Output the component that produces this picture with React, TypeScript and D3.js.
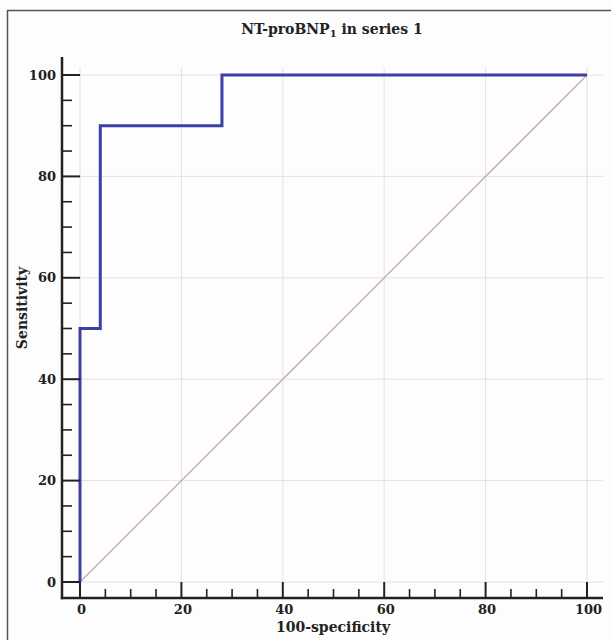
import React, {useEffect, useRef} from 'react';
import * as d3 from 'd3';

// ROC curve points (100-specificity, sensitivity)
const fpr = [0, 0, 4, 4, 28, 28, 100];
const tpr = [0, 50, 50, 90, 90, 100, 100];
const tickValues = [0, 20, 40, 60, 80, 100];
const minorTicks = [5, 10, 15, 25, 30, 35, 45, 50, 55, 65, 70, 75, 85, 90, 95];

const W = 611;
const H = 640;

const App = () => {
  const svgRef = useRef<SVGSVGElement>(null);

  useEffect(() => {
    const svg = d3.select(svgRef.current);
    svg.selectAll('*').remove();
    const font = 'DejaVu Serif';

    const x = d3.scaleLinear().domain([0, 100]).range([80, 587]);
    const y = d3.scaleLinear().domain([0, 100]).range([582, 75]);

    svg.append('rect').attr('width', W).attr('height', H).attr('fill', '#fdfdfd');

    // frame
    svg.append('line').attr('x1', 7.5).attr('x2', W).attr('y1', 10.5).attr('y2', 10.5)
      .attr('stroke', '#555').attr('stroke-width', 1.5);
    svg.append('line').attr('x1', 7.5).attr('x2', 7.5).attr('y1', 10).attr('y2', H)
      .attr('stroke', '#555').attr('stroke-width', 1.5);

    // title
    const title = svg.append('text')
      .attr('x', 332).attr('y', 34)
      .attr('text-anchor', 'middle')
      .attr('font-family', font).attr('font-weight', 'bold').attr('font-size', 14)
      .attr('fill', '#222');
    title.append('tspan').text('NT-proBNP');
    title.append('tspan').attr('font-size', 10).attr('dy', 3).text('1');
    title.append('tspan').attr('dy', -3).text(' in series 1');

    // grid
    const grid = svg.append('g').attr('stroke', '#e2e2e2').attr('stroke-width', 1);
    tickValues.forEach(v => {
      grid.append('line').attr('x1', x(v)).attr('x2', x(v)).attr('y1', y(100) - 8).attr('y2', y(0))
        .attr('stroke', v === 100 ? '#ddd' : '#e2e2e2');
      grid.append('line').attr('x1', x(0)).attr('x2', x(100) + 16).attr('y1', y(v)).attr('y2', y(v));
    });

    // diagonal
    svg.append('line')
      .attr('x1', x(0)).attr('y1', y(0)).attr('x2', x(100)).attr('y2', y(100))
      .attr('stroke', '#c9aaa2').attr('stroke-width', 1.3);

    // ROC curve
    const pts = fpr.map((d, i) => [d, tpr[i]] as [number, number]);
    const line = d3.line<[number, number]>().x(d => x(d[0])).y(d => y(d[1]));
    svg.append('path')
      .attr('d', line(pts))
      .attr('fill', 'none')
      .attr('stroke', '#3b3fa6')
      .attr('stroke-width', 3);

    // axes
    const axisX = 62;
    const axisY = 598;
    const ax = svg.append('g').attr('stroke', '#222');
    ax.append('line').attr('x1', axisX).attr('x2', axisX).attr('y1', 57).attr('y2', axisY + 1.2)
      .attr('stroke-width', 2.5);
    ax.append('line').attr('x1', axisX - 1.2).attr('x2', 603).attr('y1', axisY).attr('y2', axisY)
      .attr('stroke-width', 2.5);

    tickValues.forEach(v => {
      ax.append('line').attr('x1', axisX).attr('x2', x(0)).attr('y1', y(v)).attr('y2', y(v))
        .attr('stroke-width', 2);
      ax.append('line').attr('x1', x(v)).attr('x2', x(v)).attr('y1', axisY).attr('y2', y(0))
        .attr('stroke-width', 2);
    });
    minorTicks.forEach(v => {
      ax.append('line').attr('x1', axisX).attr('x2', axisX + 10).attr('y1', y(v)).attr('y2', y(v))
        .attr('stroke-width', 1.6);
      ax.append('line').attr('x1', x(v)).attr('x2', x(v)).attr('y1', axisY).attr('y2', axisY - 9)
        .attr('stroke-width', 1.6);
    });

    const labels = svg.append('g')
      .attr('font-family', font).attr('font-weight', 'bold').attr('font-size', 13).attr('fill', '#222');
    tickValues.forEach(v => {
      labels.append('text').attr('x', 56).attr('y', y(v)).attr('dy', '0.35em')
        .attr('text-anchor', 'end').text(v);
      labels.append('text').attr('x', x(v) + 1.5).attr('y', 614)
        .attr('text-anchor', 'middle').text(v);
    });

    labels.append('text').attr('x', 333).attr('y', 632).attr('font-size', 14)
      .attr('text-anchor', 'middle').text('100-specificity');
    labels.append('text').attr('font-size', 14)
      .attr('transform', 'translate(27,308) rotate(-90)')
      .attr('text-anchor', 'middle').text('Sensitivity');
  }, []);

  return (
    <svg ref={svgRef} width={W} height={H}
      style={{position: 'absolute', left: 0, top: 0, display: 'block'}} />
  );
};

export default App;
